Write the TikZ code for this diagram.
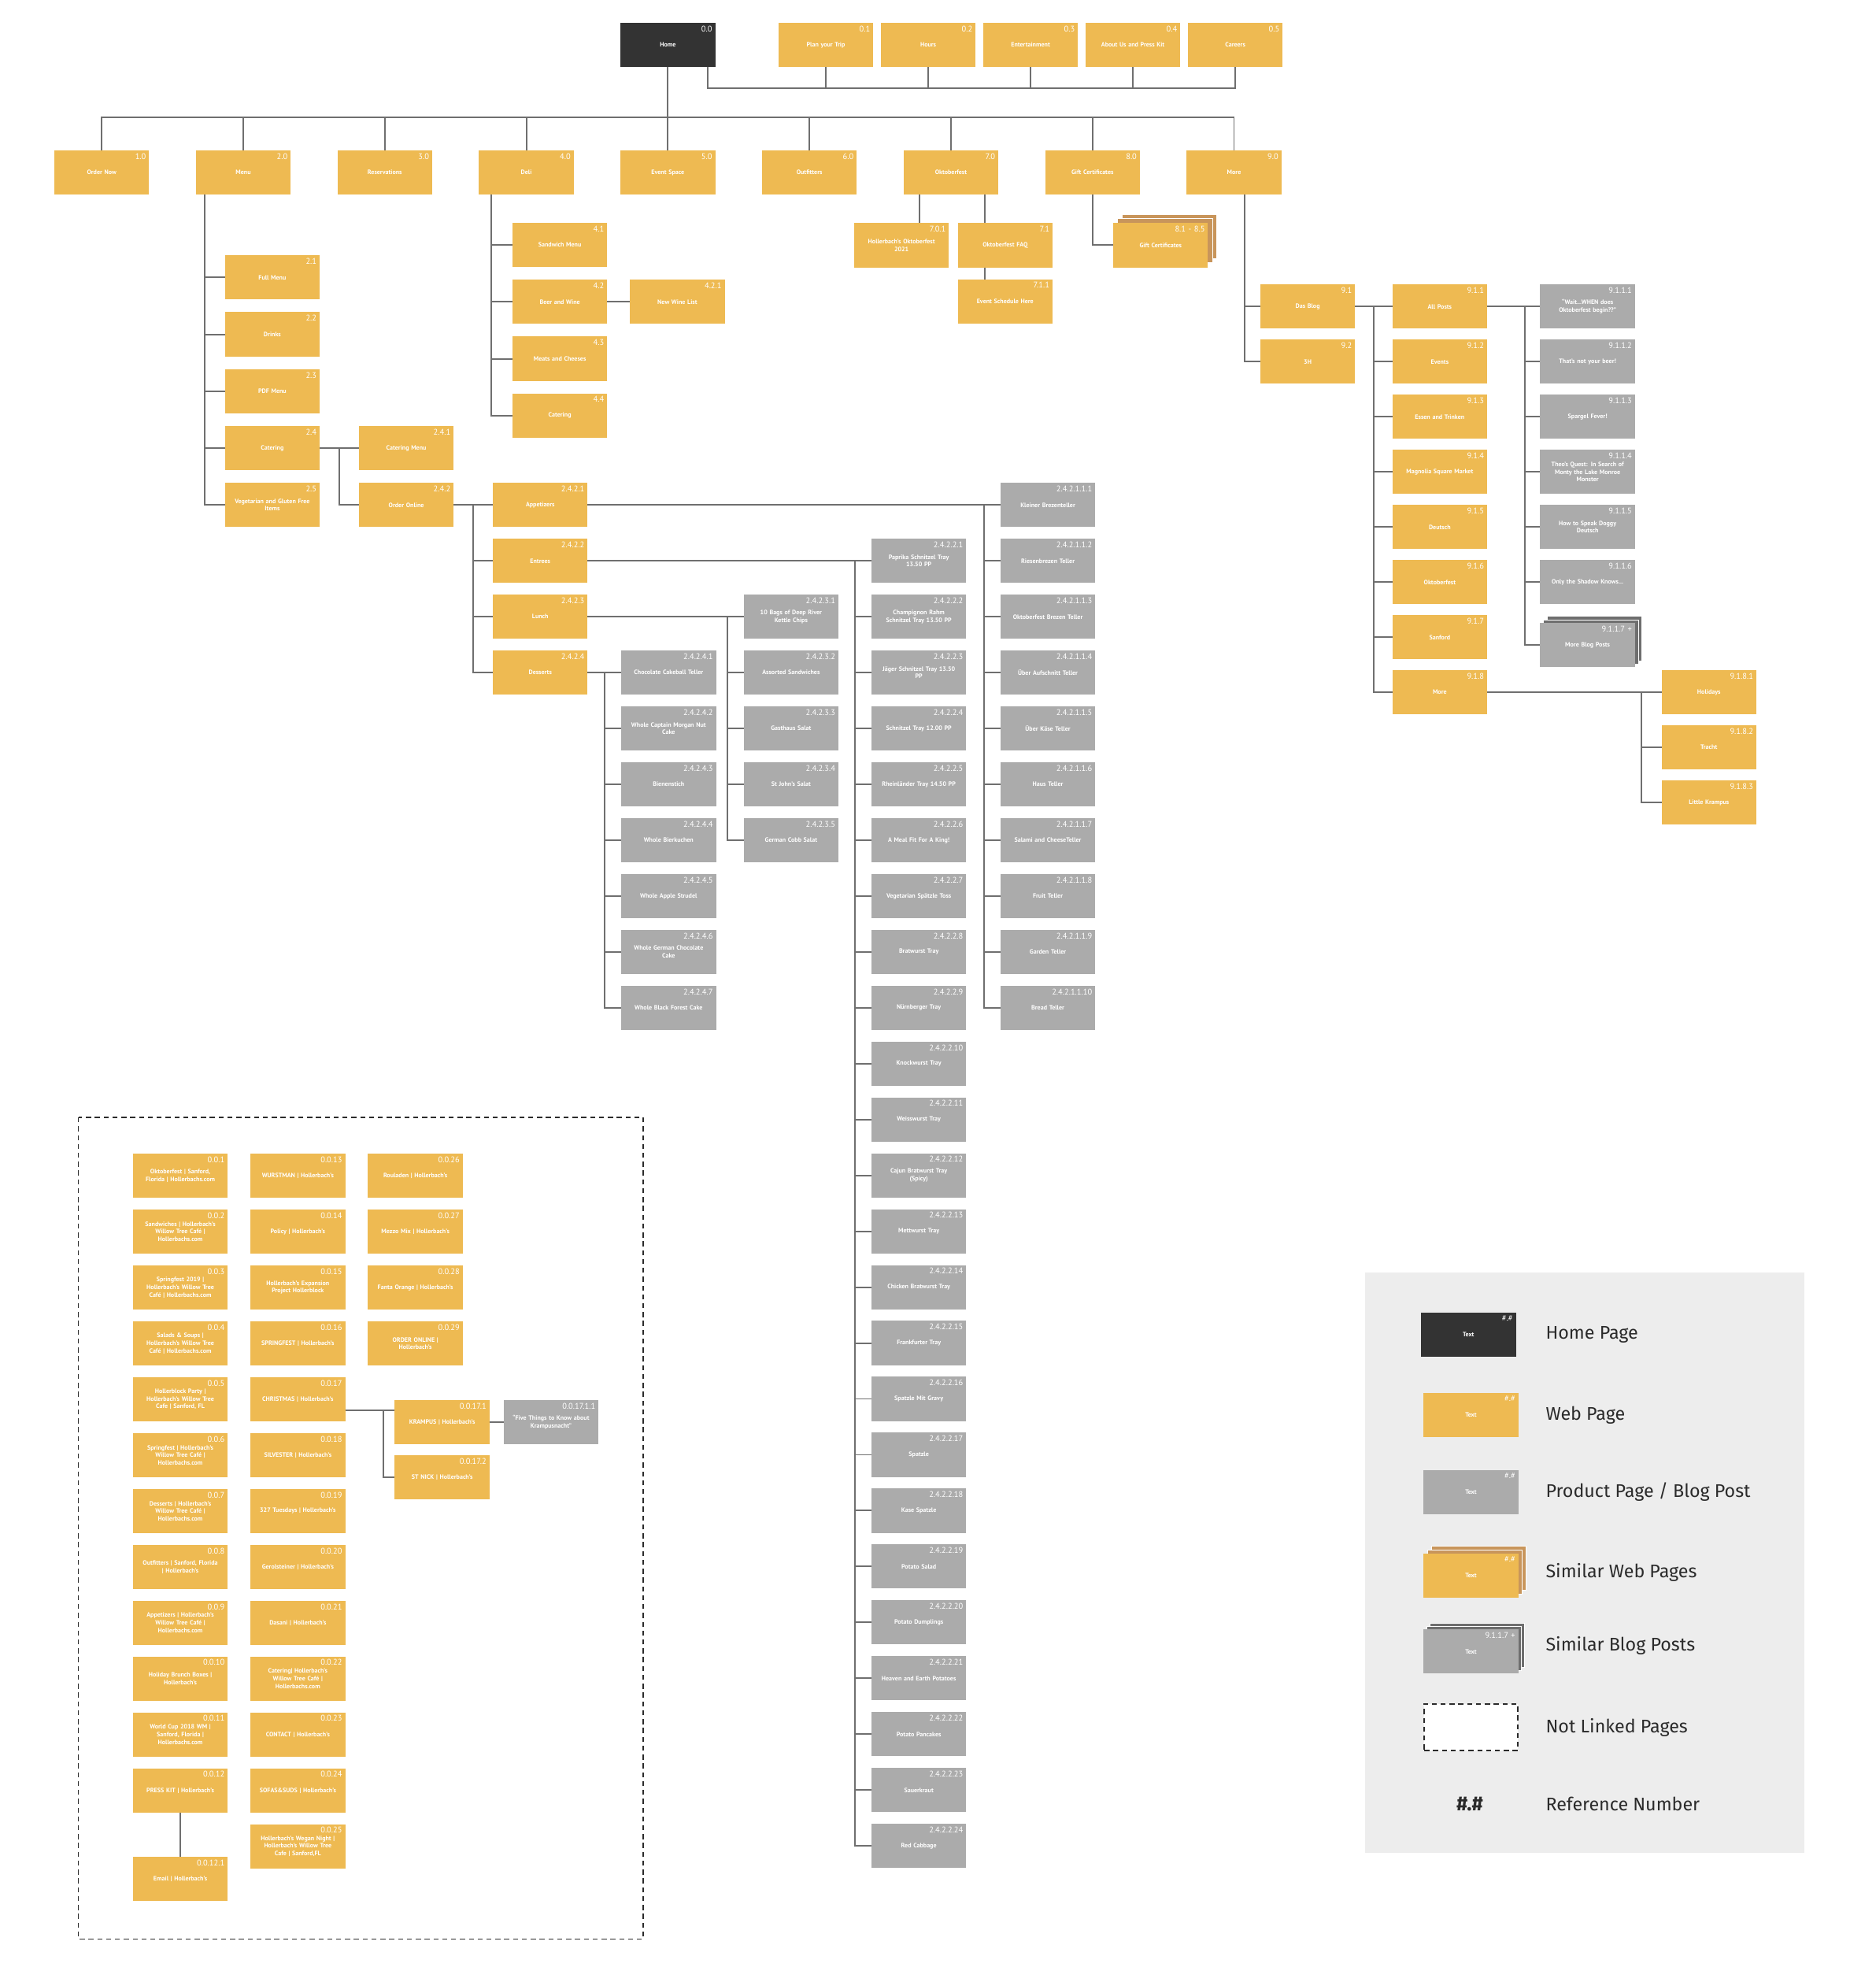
\documentclass[tikz,border=0pt]{standalone}
\usepackage{fontspec}
\setmainfont{PT Sans}
\newfontfamily\legendfont{Fira Sans}
\usepackage{xcolor}
\usepackage{tikz}
\usetikzlibrary{positioning,calc}
\definecolor{webyellow}{HTML}{EEBA52}
\definecolor{homedark}{HTML}{333333}
\definecolor{postgray}{HTML}{ABABAB}
\definecolor{stackbrown}{HTML}{C8955B}
\definecolor{stackgray}{HTML}{6E6E6E}
\definecolor{wiregray}{HTML}{6F6F6F}
\definecolor{legendbg}{HTML}{EDEDED}
\definecolor{ink}{HTML}{2B2B2B}
\newcommand{\boxfont}{\fontsize{5}{6}\selectfont\bfseries}
\newcommand{\numfont}{\fontsize{6.5}{6.5}\selectfont}
\tikzset{
  page/.style={
    rectangle,
    fill=webyellow,
    minimum width=75pt,
    minimum height=35pt,
    text width=71pt,
    inner sep=0pt,
    outer sep=0pt,
    align=center,
    text=white,
    font=\boxfont
  },
  homepage/.style={page, fill=homedark},
  postpage/.style={page, fill=postgray},
  webback/.style={page, fill=stackbrown, draw=white, line width=0.5pt},
  postback/.style={page, fill=stackgray, draw=white, line width=0.4pt},
  refnum/.style={anchor=north east, inner sep=0pt, xshift=-2.3pt, yshift=-2.2pt,
    text width=38pt, align=right, text=white, font=\numfont},
  num/.style={label={[refnum]north east:#1}},
  wire/.style={draw=wiregray, line width=1.2pt},
  notlinked/.style={draw=ink, line width=1pt, dash pattern=on 4pt off 3pt},
  notlinkedbox/.style={rectangle, draw=ink, line width=1pt, dash pattern=on 4pt off 3pt,
    fill=white, minimum width=74pt, minimum height=37pt, outer sep=0pt},
  legendtext/.style={anchor=west, inner sep=0pt, text=ink,
    font=\legendfont\fontsize{14.5}{16}\selectfont}
}

\begin{document}
\begin{tikzpicture}[x=1pt, y=-1pt, node distance=9.2pt and 6pt]
  \useasboundingbox (0,0) rectangle (1484,1568);
  \fill[white] (0,0) rectangle (1484,1568);
  \fill[legendbg] (1080,1007) rectangle (1428,1466);

  \node[homepage, num=0.0] (p00) at (528.5,35.5) {Home};
  \node[page, num=0.1] (p01) at (653.5,35.5) {Plan your Trip};
  \node[page, num=0.2, right=of p01] (p02) {Hours};
  \node[page, num=0.3, right=of p02] (p03) {Entertainment};
  \node[page, num=0.4, right=of p03] (p04) {About Us and Press Kit};
  \node[page, num=0.5, right=of p04] (p05) {Careers};

  \node[page, num=1.0] (p10) at (80.5,136.5) {Order Now};
  \node[page, num=2.0, right=37pt of p10] (p20) {Menu};
  \node[page, num=3.0, right=37pt of p20] (p30) {Reservations};
  \node[page, num=4.0, right=37pt of p30] (p40) {Deli};
  \node[page, num=5.0, right=37pt of p40] (p50) {Event Space};
  \node[page, num=6.0, right=37pt of p50] (p60) {Outfitters};
  \node[page, num=7.0, right=37pt of p60] (p70) {Oktoberfest};
  \node[page, num=8.0, right=37pt of p70] (p80) {Gift Certificates};
  \node[page, num=9.0, right=37pt of p80] (p90) {More};

  \coordinate[below=40pt of p00] (bus);
  \coordinate (navbus) at ([xshift=-6pt,yshift=-16.5pt]p00.south east);
  \draw[wire] (p00) -- (p50);
  \draw[wire] (p10.north) |- (bus) -| (p90.north);
  \draw[wire] (bus -| p20) -- (p20) (bus -| p30) -- (p30) (bus -| p40) -- (p40)
    (bus -| p60) -- (p60) (bus -| p70) -- (p70) (bus -| p80) -- (p80);
  \draw[wire] ([xshift=-6pt]p00.south east) -- (navbus) -| (p05.south);
  \draw[wire] (navbus -| p01) -- (p01) (navbus -| p02) -- (p02)
    (navbus -| p03) -- (p03) (navbus -| p04) -- (p04);

  \node[page, num=2.1] (p21) at (215.5,219.5) {Full Menu};
  \node[page, num=2.2, below=10pt of p21] (p22) {Drinks};
  \node[page, num=2.3, below=10pt of p22] (p23) {PDF Menu};
  \node[page, num=2.4, below=10pt of p23] (p24) {Catering};
  \node[page, num=2.5, below=10pt of p24] (p25) {Vegetarian and Gluten Free\\Items};
  \node[page, num=2.4.1, right=31pt of p24] (p241) {Catering Menu};
  \node[page, num=2.4.2, below=10pt of p241] (p242) {Order Online};
  \draw[wire] ([xshift=7pt]p20.south west) |- (p21) ([xshift=7pt]p20.south west) |- (p22)
    ([xshift=7pt]p20.south west) |- (p23) ([xshift=7pt]p20.south west) |- (p24)
    ([xshift=7pt]p20.south west) |- (p25);
  \draw[wire] (p24) -- (p241);
  \draw[wire] (p24.east) -- ($(p24.east)!0.5!(p241.west)$) |- (p242);

  \node[page, num=4.1] (p41) at (443,193.8) {Sandwich Menu};
  \node[page, num=4.2, below=10pt of p41] (p42) {Beer and Wine};
  \node[page, num=4.3, below=10pt of p42] (p43) {Meats and Cheeses};
  \node[page, num=4.4, below=10pt of p43] (p44) {Catering};
  \node[page, num=4.2.1, right=18pt of p42] (p421) {New Wine List};
  \draw[wire] ([xshift=10pt]p40.south west) |- (p41) ([xshift=10pt]p40.south west) |- (p42)
    ([xshift=10pt]p40.south west) |- (p43) ([xshift=10pt]p40.south west) |- (p44);
  \draw[wire] (p42) -- (p421);

  \node[page, num=2.4.2.1, right=31pt of p242] (p2421) {Appetizers};
  \node[page, num=2.4.2.2, below=of p2421] (p2422) {Entrees};
  \node[page, num=2.4.2.3, below=of p2422] (p2423) {Lunch};
  \node[page, num=2.4.2.4, below=of p2423] (p2424) {Desserts};
  \draw[wire] (p242) -- (p2421);
  \draw[wire] ($(p242.east)!0.5!(p2421.west)$) |- (p2422)
    ($(p242.east)!0.5!(p2421.west)$) |- (p2423) ($(p242.east)!0.5!(p2421.west)$) |- (p2424);

  \node[postpage, num=2.4.2.4.1, right=26.6pt of p2424] (des1) {Chocolate Cakeball Teller};
  \node[postpage, num=2.4.2.4.2, below=of des1] (des2) {Whole Captain Morgan Nut\\Cake};
  \node[postpage, num=2.4.2.4.3, below=of des2] (des3) {Bienenstich};
  \node[postpage, num=2.4.2.4.4, below=of des3] (des4) {Whole Bierkuchen};
  \node[postpage, num=2.4.2.4.5, below=of des4] (des5) {Whole Apple Strudel};
  \node[postpage, num=2.4.2.4.6, below=of des5] (des6) {Whole German Chocolate\\Cake};
  \node[postpage, num=2.4.2.4.7, below=of des6] (des7) {Whole Black Forest Cake};
  \draw[wire] (p2424) -- (des1);
  \draw[wire] ([xshift=-13pt]des1.west) |- (des2) ([xshift=-13pt]des1.west) |- (des3)
    ([xshift=-13pt]des1.west) |- (des4) ([xshift=-13pt]des1.west) |- (des5)
    ([xshift=-13pt]des1.west) |- (des6) ([xshift=-13pt]des1.west) |- (des7);

  \node[postpage, num=2.4.2.3.1, right=123.5pt of p2423] (lun1) {10 Bags of Deep River\\Kettle Chips};
  \node[postpage, num=2.4.2.3.2, below=of lun1] (lun2) {Assorted Sandwiches};
  \node[postpage, num=2.4.2.3.3, below=of lun2] (lun3) {Gasthaus Salat};
  \node[postpage, num=2.4.2.3.4, below=of lun3] (lun4) {St John's Salat};
  \node[postpage, num=2.4.2.3.5, below=of lun4] (lun5) {German Cobb Salat};
  \draw[wire] (p2423) -- (lun1);
  \draw[wire] ([xshift=-13pt]lun1.west) |- (lun2) ([xshift=-13pt]lun1.west) |- (lun3)
    ([xshift=-13pt]lun1.west) |- (lun4) ([xshift=-13pt]lun1.west) |- (lun5);

  \node[postpage, num=2.4.2.2.1, right=224.6pt of p2422] (ent1) {Paprika Schnitzel Tray\\13.50 PP};
  \node[postpage, num=2.4.2.2.2, below=of ent1] (ent2) {Champignon Rahm\\Schnitzel Tray 13.50 PP};
  \node[postpage, num=2.4.2.2.3, below=of ent2] (ent3) {Jäger Schnitzel Tray 13.50\\PP};
  \node[postpage, num=2.4.2.2.4, below=of ent3] (ent4) {Schnitzel Tray 12.00 PP};
  \node[postpage, num=2.4.2.2.5, below=of ent4] (ent5) {Rheinländer Tray 14.50 PP};
  \node[postpage, num=2.4.2.2.6, below=of ent5] (ent6) {A Meal Fit For A King!};
  \node[postpage, num=2.4.2.2.7, below=of ent6] (ent7) {Vegetarian Spätzle Toss};
  \node[postpage, num=2.4.2.2.8, below=of ent7] (ent8) {Bratwurst Tray};
  \node[postpage, num=2.4.2.2.9, below=of ent8] (ent9) {Nürnberger Tray};
  \node[postpage, num=2.4.2.2.10, below=of ent9] (ent10) {Knockwurst Tray};
  \node[postpage, num=2.4.2.2.11, below=of ent10] (ent11) {Weisswurst Tray};
  \node[postpage, num=2.4.2.2.12, below=of ent11] (ent12) {Cajun Bratwurst Tray\\(Spicy)};
  \node[postpage, num=2.4.2.2.13, below=of ent12] (ent13) {Mettwurst Tray};
  \node[postpage, num=2.4.2.2.14, below=of ent13] (ent14) {Chicken Bratwurst Tray};
  \node[postpage, num=2.4.2.2.15, below=of ent14] (ent15) {Frankfurter Tray};
  \node[postpage, num=2.4.2.2.16, below=of ent15] (ent16) {Spatzle Mit Gravy};
  \node[postpage, num=2.4.2.2.17, below=of ent16] (ent17) {Spatzle};
  \node[postpage, num=2.4.2.2.18, below=of ent17] (ent18) {Kase Spatzle};
  \node[postpage, num=2.4.2.2.19, below=of ent18] (ent19) {Potato Salad};
  \node[postpage, num=2.4.2.2.20, below=of ent19] (ent20) {Potato Dumplings};
  \node[postpage, num=2.4.2.2.21, below=of ent20] (ent21) {Heaven and Earth Potatoes};
  \node[postpage, num=2.4.2.2.22, below=of ent21] (ent22) {Potato Pancakes};
  \node[postpage, num=2.4.2.2.23, below=of ent22] (ent23) {Sauerkraut};
  \node[postpage, num=2.4.2.2.24, below=of ent23] (ent24) {Red Cabbage};
  \draw[wire] (p2422) -- (ent1);
  \draw[wire] ([xshift=-13pt]ent1.west) |- (ent2) ([xshift=-13pt]ent1.west) |- (ent3)
    ([xshift=-13pt]ent1.west) |- (ent4) ([xshift=-13pt]ent1.west) |- (ent5)
    ([xshift=-13pt]ent1.west) |- (ent6) ([xshift=-13pt]ent1.west) |- (ent7)
    ([xshift=-13pt]ent1.west) |- (ent8) ([xshift=-13pt]ent1.west) |- (ent9)
    ([xshift=-13pt]ent1.west) |- (ent10) ([xshift=-13pt]ent1.west) |- (ent11)
    ([xshift=-13pt]ent1.west) |- (ent12) ([xshift=-13pt]ent1.west) |- (ent13)
    ([xshift=-13pt]ent1.west) |- (ent14) ([xshift=-13pt]ent1.west) |- (ent15)
    ([xshift=-13pt]ent1.west) |- (ent16) ([xshift=-13pt]ent1.west) |- (ent17)
    ([xshift=-13pt]ent1.west) |- (ent18) ([xshift=-13pt]ent1.west) |- (ent19)
    ([xshift=-13pt]ent1.west) |- (ent20) ([xshift=-13pt]ent1.west) |- (ent21)
    ([xshift=-13pt]ent1.west) |- (ent22) ([xshift=-13pt]ent1.west) |- (ent23)
    ([xshift=-13pt]ent1.west) |- (ent24);

  \node[postpage, num=2.4.2.1.1.1, right=326.7pt of p2421] (app1) {Kleiner Brezenteller};
  \node[postpage, num=2.4.2.1.1.2, below=of app1] (app2) {Riesenbrezen Teller};
  \node[postpage, num=2.4.2.1.1.3, below=of app2] (app3) {Oktoberfest Brezen Teller};
  \node[postpage, num=2.4.2.1.1.4, below=of app3] (app4) {Über Aufschnitt Teller};
  \node[postpage, num=2.4.2.1.1.5, below=of app4] (app5) {Über Käse Teller};
  \node[postpage, num=2.4.2.1.1.6, below=of app5] (app6) {Haus Teller};
  \node[postpage, num=2.4.2.1.1.7, below=of app6] (app7) {Salami and CheeseTeller};
  \node[postpage, num=2.4.2.1.1.8, below=of app7] (app8) {Fruit Teller};
  \node[postpage, num=2.4.2.1.1.9, below=of app8] (app9) {Garden Teller};
  \node[postpage, num=2.4.2.1.1.10, below=of app9] (app10) {Bread Teller};
  \draw[wire] (p2421) -- (app1);
  \draw[wire] ([xshift=-13pt]app1.west) |- (app2) ([xshift=-13pt]app1.west) |- (app3)
    ([xshift=-13pt]app1.west) |- (app4) ([xshift=-13pt]app1.west) |- (app5)
    ([xshift=-13pt]app1.west) |- (app6) ([xshift=-13pt]app1.west) |- (app7)
    ([xshift=-13pt]app1.west) |- (app8) ([xshift=-13pt]app1.west) |- (app9)
    ([xshift=-13pt]app1.west) |- (app10);

  \node[page, num=7.0.1] (p701) at (713.4,194) {Hollerbach's Oktoberfest\\2021};
  \node[page, num=7.1, right=7pt of p701] (p71) {Oktoberfest FAQ};
  \node[page, num=7.1.1, below=9.4pt of p71] (p711) {Event Schedule Here};
  \draw[wire] ([xshift=14.4pt]p701.north) -- ([xshift=14.4pt]p701.north |- p70.south);
  \draw[wire] ([xshift=-16pt]p71.north) -- ([xshift=-16pt]p71.north |- p70.south);
  \draw[wire] ([xshift=-16pt]p71.south) -- ([xshift=-16pt]p711.north);

  \node[webback] (p81l2) at (925.4,187) {};
  \node[webback] (p81l1) at (921.9,190.5) {};
  \node[page, num=8.1 - 8.5] (p81) at (918.4,194) {Gift Certificates};
  \draw[wire] (p80.south) |- (p81);

  \node[page, num=9.1] (p91) at (1034.8,242.5) {Das Blog};
  \node[page, num=9.2, below=8.6pt of p91] (p92) {3H};
  \draw[wire] ([xshift=8.5pt]p90.south) |- (p91) ([xshift=8.5pt]p90.south) |- (p92);

  \node[page, num=9.1.1, right=29.5pt of p91] (cat1) {All Posts};
  \node[page, num=9.1.2, below=8.6pt of cat1] (cat2) {Events};
  \node[page, num=9.1.3, below=8.6pt of cat2] (cat3) {Essen and Trinken};
  \node[page, num=9.1.4, below=8.6pt of cat3] (cat4) {Magnolia Square Market};
  \node[page, num=9.1.5, below=8.6pt of cat4] (cat5) {Deutsch};
  \node[page, num=9.1.6, below=8.6pt of cat5] (cat6) {Oktoberfest};
  \node[page, num=9.1.7, below=8.6pt of cat6] (cat7) {Sanford};
  \node[page, num=9.1.8, below=8.6pt of cat7] (cat8) {More};
  \draw[wire] (p91) -- (cat1);
  \draw[wire] ($(p91.east)!0.5!(cat1.west)$) |- (cat2) ($(p91.east)!0.5!(cat1.west)$) |- (cat3)
    ($(p91.east)!0.5!(cat1.west)$) |- (cat4) ($(p91.east)!0.5!(cat1.west)$) |- (cat5)
    ($(p91.east)!0.5!(cat1.west)$) |- (cat6) ($(p91.east)!0.5!(cat1.west)$) |- (cat7)
    ($(p91.east)!0.5!(cat1.west)$) |- (cat8);

  \node[postpage, num=9.1.1.1, right=42pt of cat1] (post1) {“Wait...WHEN does\\Oktoberfest begin??”};
  \node[postpage, num=9.1.1.2, below=8.6pt of post1] (post2) {That's not your beer!};
  \node[postpage, num=9.1.1.3, below=8.6pt of post2] (post3) {Spargel Fever!};
  \node[postpage, num=9.1.1.4, below=8.6pt of post3] (post4) {Theo's Quest: In Search of\\Monty the Lake Monroe\\Monster};
  \node[postpage, num=9.1.1.5, below=8.6pt of post4] (post5) {How to Speak Doggy\\Deutsch};
  \node[postpage, num=9.1.1.6, below=8.6pt of post5] (post6) {Only the Shadow Knows...};
  \node[postback, below=14.8pt of post6, xshift=5.2pt, yshift=5.2pt] (post7l2) {};
  \node[postback, below=14.8pt of post6, xshift=2.6pt, yshift=2.6pt] (post7l1) {};
  \node[postpage, num=9.1.1.7 +, below=14.8pt of post6] (post7) {More Blog Posts};
  \draw[wire] (cat1) -- (post1);
  \draw[wire] ([xshift=-12pt]post1.west) |- (post2) ([xshift=-12pt]post1.west) |- (post3)
    ([xshift=-12pt]post1.west) |- (post4) ([xshift=-12pt]post1.west) |- (post5)
    ([xshift=-12pt]post1.west) |- (post6) ([xshift=-12pt]post1.west) |- (post7);

  \node[page, num=9.1.8.1, right=138pt of cat8] (hol1) {Holidays};
  \node[page, num=9.1.8.2, below=8.6pt of hol1] (hol2) {Tracht};
  \node[page, num=9.1.8.3, below=8.6pt of hol2] (hol3) {Little Krampus};
  \draw[wire] (cat8) -- (hol1);
  \draw[wire] ([xshift=-16pt]hol1.west) |- (hol2) ([xshift=-16pt]hol1.west) |- (hol3);

  \draw[notlinked] (62,884) rectangle (509,1534);
  \node[page, num=0.0.1] (nl1) at (142.7,930.2) {Oktoberfest | Sanford,\\Florida | Hollerbachs.com};
  \node[page, num=0.0.2, below=of nl1] (nl2) {Sandwiches | Hollerbach's\\Willow Tree Café |\\Hollerbachs.com};
  \node[page, num=0.0.3, below=of nl2] (nl3) {Springfest 2019 |\\Hollerbach's Willow Tree\\Café | Hollerbachs.com};
  \node[page, num=0.0.4, below=of nl3] (nl4) {Salads \& Soups |\\Hollerbach's Willow Tree\\Café | Hollerbachs.com};
  \node[page, num=0.0.5, below=of nl4] (nl5) {Hollerblock Party |\\Hollerbach's Willow Tree\\Cafe | Sanford, FL};
  \node[page, num=0.0.6, below=of nl5] (nl6) {Springfest | Hollerbach's\\Willow Tree Café |\\Hollerbachs.com};
  \node[page, num=0.0.7, below=of nl6] (nl7) {Desserts | Hollerbach's\\Willow Tree Café |\\Hollerbachs.com};
  \node[page, num=0.0.8, below=of nl7] (nl8) {Outfitters | Sanford, Florida\\| Hollerbach's};
  \node[page, num=0.0.9, below=of nl8] (nl9) {Appetizers | Hollerbach's\\Willow Tree Café |\\Hollerbachs.com};
  \node[page, num=0.0.10, below=of nl9] (nl10) {Holiday Brunch Boxes |\\Hollerbach's};
  \node[page, num=0.0.11, below=of nl10] (nl11) {World Cup 2018 WM |\\Sanford, Florida |\\Hollerbachs.com};
  \node[page, num=0.0.12, below=of nl11] (nl12) {PRESS KIT | Hollerbach's};
  \node[page, num=0.0.12.1, below=35pt of nl12] (nl121) {Email | Hollerbach's};
  \draw[wire] (nl12) -- (nl121);

  \node[page, num=0.0.13, right=18pt of nl1] (nl13) {WURSTMAN | Hollerbach's};
  \node[page, num=0.0.14, below=of nl13] (nl14) {Policy | Hollerbach's};
  \node[page, num=0.0.15, below=of nl14] (nl15) {Hollerbach's Expansion\\Project Hollerblock};
  \node[page, num=0.0.16, below=of nl15] (nl16) {SPRINGFEST | Hollerbach's};
  \node[page, num=0.0.17, below=of nl16] (nl17) {CHRISTMAS | Hollerbach's};
  \node[page, num=0.0.18, below=of nl17] (nl18) {SILVESTER | Hollerbach's};
  \node[page, num=0.0.19, below=of nl18] (nl19) {327 Tuesdays | Hollerbach's};
  \node[page, num=0.0.20, below=of nl19] (nl20) {Gerolsteiner | Hollerbach's};
  \node[page, num=0.0.21, below=of nl20] (nl21) {Dasani | Hollerbach's};
  \node[page, num=0.0.22, below=of nl21] (nl22) {Catering| Hollerbach's\\Willow Tree Café |\\Hollerbachs.com};
  \node[page, num=0.0.23, below=of nl22] (nl23) {CONTACT | Hollerbach's};
  \node[page, num=0.0.24, below=of nl23] (nl24) {SOFAS\&SUDS | Hollerbach's};
  \node[page, num=0.0.25, below=of nl24] (nl25) {Hollerbach's Wegan Night |\\Hollerbach's Willow Tree\\Cafe | Sanford,FL};

  \node[page, num=0.0.26, right=18pt of nl13] (nl26) {Rouladen | Hollerbach's};
  \node[page, num=0.0.27, below=of nl26] (nl27) {Mezzo Mix | Hollerbach's};
  \node[page, num=0.0.28, below=of nl27] (nl28) {Fanta Orange | Hollerbach's};
  \node[page, num=0.0.29, below=of nl28] (nl29) {ORDER ONLINE |\\Hollerbach's};

  \node[page, num=0.0.17.1, right=39.2pt of nl17, yshift=-18.3pt] (nl171) {KRAMPUS | Hollerbach's};
  \node[page, num=0.0.17.2, below=8.4pt of nl171] (nl172) {ST NICK | Hollerbach's};
  \node[postpage, num=0.0.17.1.1, right=11.2pt of nl171] (nl1711) {“Five Things to Know about\\Krampusnacht”};
  \draw[wire] ([yshift=-9pt]nl17.east) -- ([yshift=-9pt]nl17.east -| nl171.west);
  \draw[wire] ([yshift=-9pt]nl17.east) -| ([xshift=-9pt]nl172.west) -- (nl172.west);
  \draw[wire] (nl171) -- (nl1711);

  \node[homepage, num=\#.\#] (lhome) at (1162,1056) {Text};
  \node[legendtext] (thome) at (1223,1056) {Home Page};
  \node[page, num=\#.\#] (lweb) at (1164,1119.5) {Text};
  \node[legendtext] (tweb) at (1223,1119.5) {Web Page};
  \node[postpage, num=\#.\#] (lpost) at (1164,1180.5) {Text};
  \node[legendtext] (tpost) at (1223,1180.5) {Product Page / Blog Post};
  \node[webback] (lsimwebl2) at (1170,1240.5) {};
  \node[webback] (lsimwebl1) at (1167,1243.5) {};
  \node[page, num=\#.\#] (lsimweb) at (1164,1246.5) {Text};
  \node[legendtext] (tsimweb) at (1223,1244) {Similar Web Pages};
  \node[postback] (lsimpostl2) at (1169,1301.5) {};
  \node[postback] (lsimpostl1) at (1166.5,1304) {};
  \node[postpage, num=9.1.1.7 +] (lsimpost) at (1164,1306.5) {Text};
  \node[legendtext] (tsimpost) at (1223,1302) {Similar Blog Posts};
  \node[notlinkedbox] (lnot) at (1164,1366.5) {};
  \node[legendtext] (tnot) at (1223,1367) {Not Linked Pages};
  \node[text=ink, font=\legendfont\bfseries\fontsize{16}{16}\selectfont] (lref) at (1163,1427) {\#.\#};
  \node[legendtext] (tref) at (1223,1427) {Reference Number};
\end{tikzpicture}
\end{document}
